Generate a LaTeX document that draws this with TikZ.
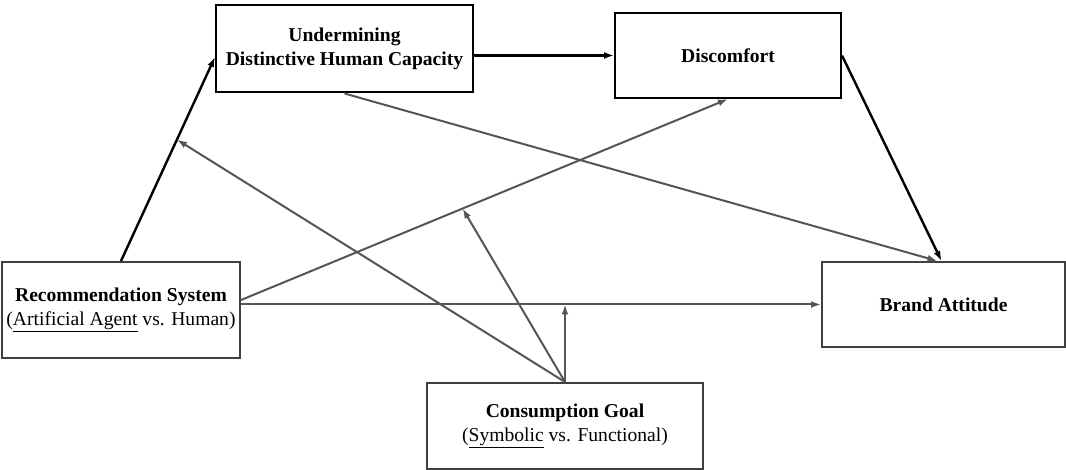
\documentclass[tikz,border=0pt]{standalone}
\usepackage{fontspec}
\setmainfont{Liberation Serif}
\usetikzlibrary{positioning, arrows.meta}
\definecolor{linegray}{RGB}{85,85,85}
\definecolor{boxgray}{RGB}{64,64,64}

\begin{document}
\begin{tikzpicture}[x=1pt, y=-1pt, >={Latex[length=10pt,width=7pt]},
    font=\fontsize{19.6}{24}\selectfont,
    var/.style={draw, rectangle, line width=2pt, align=center, inner sep=0pt},
    main/.style={->, line width=2.4pt, black},
    mod/.style={->, line width=2pt, linegray}]
            \useasboundingbox (0,0) rectangle (1066,470);
            \node [var, minimum width=257pt, minimum height=87pt] (und) at (344.5,49) {\textbf{Undermining}\\\textbf{Distinctive Human Capacity}};
            \node [var, minimum width=226pt, minimum height=85pt] (dis) at (728,55.5) {\textbf{Discomfort}};
            \node [var, draw=boxgray, minimum width=238pt, minimum height=96pt] (rec) at (121,310) {\textbf{Recommendation System}\\(\underline{Artificial Agent} vs. Human)};
            \node [var, draw=boxgray, minimum width=243pt, minimum height=85pt] (brand) at (943.5,304.5) {\textbf{Brand Attitude}};
            \node [var, draw=boxgray, minimum width=276pt, minimum height=86pt] (goal) at (565,426) {\textbf{Consumption Goal}\\(\underline{Symbolic} vs. Functional)};

            \coordinate (undin) at ([yshift=-8pt]und.west);
            \coordinate (recout) at ([yshift=10pt]rec.east);

            \draw [main] (rec.north) -- (undin) coordinate [pos=0.595] (modund);
            \draw [main] (und.east |- dis.west) -- (dis.west);
            \draw [main] (dis.east) -- ([xshift=-2pt]brand.north);
            \draw [mod] (und.south) -- ([xshift=-6pt]brand.north);
            \draw [mod] (recout) -- (dis.south) coordinate [pos=0.455] (moddis);
            \draw [mod] (rec.east |- brand.west) -- (brand.west);
            \draw [mod] (goal.north) -- (modund);
            \draw [mod] (goal.north) -- (moddis);
            \draw [mod] (goal.north) -- (goal.north |- brand.west);
          \end{tikzpicture}
\end{document}
